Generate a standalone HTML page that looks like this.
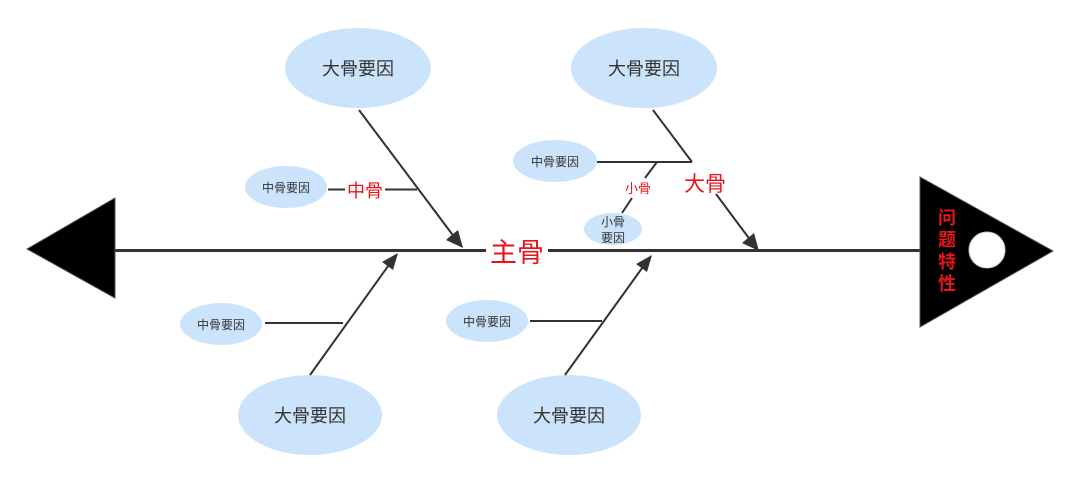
<!DOCTYPE html>
<html>
<head>
<meta charset="utf-8">
<style>
html,body{margin:0;padding:0;background:#fff;}
svg{display:block;}
text{font-family:"Liberation Sans","Noto Sans CJK SC",sans-serif;}
</style>
</head>
<body>
<svg width="1080" height="483" viewBox="0 0 1080 483" xmlns="http://www.w3.org/2000/svg">
<defs>
<marker id="ah" markerWidth="10" markerHeight="10" refX="9" refY="5" orient="auto" markerUnits="userSpaceOnUse" viewBox="0 0 10 10">
</marker>
</defs>
<rect width="1080" height="483" fill="#fff"/>

<!-- main spine -->
<line x1="115" y1="250.5" x2="486" y2="250.5" stroke="#333" stroke-width="3"/>
<line x1="548" y1="250.5" x2="921" y2="250.5" stroke="#333" stroke-width="3"/>
<text x="517" y="262" font-size="27" fill="#e8141c" text-anchor="middle">主骨</text>

<!-- left tail triangle -->
<polygon points="115,198 115,298 27,249" fill="#000" stroke="#555" stroke-width="1"/>

<!-- right head triangle -->
<polygon points="920,177 920,327 1053,251" fill="#000" stroke="#555" stroke-width="1"/>
<circle cx="987" cy="250" r="18" fill="#fff" stroke="#ccc" stroke-width="1"/>
<text x="947" y="224" font-size="18" font-weight="bold" fill="#e8141c" text-anchor="middle">问</text>
<text x="947" y="246" font-size="18" font-weight="bold" fill="#e8141c" text-anchor="middle">题</text>
<text x="947" y="268" font-size="18" font-weight="bold" fill="#e8141c" text-anchor="middle">特</text>
<text x="947" y="290" font-size="18" font-weight="bold" fill="#e8141c" text-anchor="middle">性</text>

<!-- ellipses -->
<ellipse cx="358" cy="68" rx="73" ry="40" fill="#cce4fb"/>
<text x="358" y="75" font-size="18" fill="#333" text-anchor="middle">大骨要因</text>
<ellipse cx="644" cy="68" rx="73" ry="40" fill="#cce4fb"/>
<text x="644" y="75" font-size="18" fill="#333" text-anchor="middle">大骨要因</text>
<ellipse cx="310" cy="415" rx="72" ry="40" fill="#cce4fb"/>
<text x="310" y="422" font-size="18" fill="#333" text-anchor="middle">大骨要因</text>
<ellipse cx="569" cy="415" rx="72" ry="40" fill="#cce4fb"/>
<text x="569" y="422" font-size="18" fill="#333" text-anchor="middle">大骨要因</text>

<ellipse cx="286" cy="187" rx="41" ry="21" fill="#cce4fb"/>
<text x="286" y="192" font-size="12" fill="#333" text-anchor="middle">中骨要因</text>
<ellipse cx="555" cy="161" rx="42" ry="21" fill="#cce4fb"/>
<text x="555" y="166" font-size="12" fill="#333" text-anchor="middle">中骨要因</text>
<ellipse cx="221" cy="324" rx="41" ry="21" fill="#cce4fb"/>
<text x="221" y="329" font-size="12" fill="#333" text-anchor="middle">中骨要因</text>
<ellipse cx="487" cy="321" rx="41" ry="21" fill="#cce4fb"/>
<text x="487" y="326" font-size="12" fill="#333" text-anchor="middle">中骨要因</text>

<ellipse cx="613" cy="229" rx="29" ry="16" fill="#cce4fb"/>
<text x="613" y="226" font-size="12" fill="#333" text-anchor="middle">小骨</text>
<text x="613" y="242" font-size="12" fill="#333" text-anchor="middle">要因</text>

<!-- top-left bone -->
<line x1="359" y1="110" x2="455" y2="238" stroke="#333" stroke-width="2"/>
<polygon points="462,247 447,239 457,231" fill="#333"/>
<polygon points="463,248 446,240 458,230" fill="#333"/>
<line x1="328" y1="189.5" x2="345" y2="189.5" stroke="#333" stroke-width="2"/>
<line x1="385" y1="189.5" x2="417" y2="189.5" stroke="#333" stroke-width="2"/>
<text x="365" y="197" font-size="18" fill="#e8141c" text-anchor="middle">中骨</text>

<!-- top-right bone -->
<line x1="653" y1="110" x2="692" y2="162" stroke="#333" stroke-width="2"/>
<line x1="716" y1="194" x2="751" y2="241" stroke="#333" stroke-width="2"/>
<polygon points="759,251 742,243 754,233" fill="#333"/>
<text x="705" y="191" font-size="21" fill="#e8141c" text-anchor="middle">大骨</text>
<line x1="597" y1="162" x2="692" y2="162" stroke="#333" stroke-width="2"/>
<line x1="657" y1="162" x2="645" y2="178" stroke="#333" stroke-width="2"/>
<line x1="632" y1="198" x2="622" y2="213" stroke="#333" stroke-width="2"/>
<text x="638" y="193" font-size="13" fill="#e8141c" text-anchor="middle">小骨</text>

<!-- bottom-left bone -->
<line x1="310" y1="375" x2="391" y2="262" stroke="#333" stroke-width="2"/>
<polygon points="398,253 393,270 382,262" fill="#333"/>
<line x1="265" y1="323" x2="343" y2="323" stroke="#333" stroke-width="2"/>

<!-- bottom-right bone -->
<line x1="565" y1="375" x2="645" y2="264" stroke="#333" stroke-width="2"/>
<polygon points="652,255 647,272 636,264" fill="#333"/>
<line x1="530" y1="321" x2="602" y2="321" stroke="#333" stroke-width="2"/>
</svg>
</body>
</html>
